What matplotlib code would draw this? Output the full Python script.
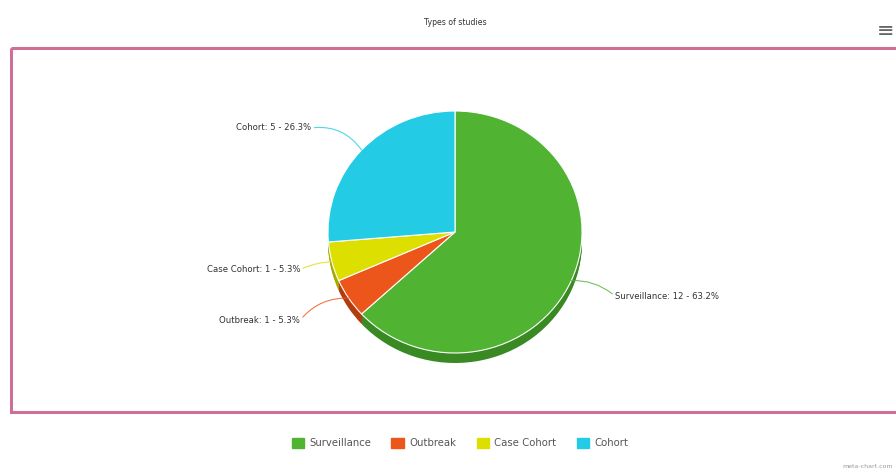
import numpy as np
import matplotlib
matplotlib.use("Agg")
import matplotlib.pyplot as plt
from matplotlib.patches import Rectangle

categories = ["Surveillance", "Outbreak", "Case Cohort", "Cohort"]
counts = [12, 1, 1, 5]
percents = [63.2, 5.3, 5.3, 26.3]
colors = ["#50B432", "#ED561B", "#DDDF00", "#24CBE5"]
side_colors = ["#3a8a24", "#b23c10", "#a8aa00", "#1a9bb0"]
title = "Types of studies"

label_font = ["Liberation Sans Narrow", "DejaVu Sans"]

fig = plt.figure(figsize=(8.96, 4.74), dpi=100)
W, H = 896, 474

# background axes in pixel coords
bg = fig.add_axes([0, 0, 1, 1])
bg.set_xlim(0, W)
bg.set_ylim(H, 0)
bg.axis("off")

bg.add_patch(Rectangle((11, 48), 900, 364, fill=False, edgecolor="#cf6f96", linewidth=2.2))
bg.text(455, 22, title, ha="center", va="center", fontsize=5.6, color="#333333", family=label_font)
bg.text(886, 31, "\u2261", ha="center", va="center", fontsize=15, color="#666666")
bg.text(893, 466, "meta-chart.com", ha="right", va="center", fontsize=4.5, color="#999999")

# pie axes: center (455, 232), rx 127, ry 121 pixels
cx, cy, rx, ry = 455, 232, 127, 121
pw, ph = 2.5 * rx, 2.5 * ry
pax = fig.add_axes([(cx - pw / 2) / W, (H - cy - ph / 2) / H, pw / W, ph / H])

depth = 10 / ry
for k in np.linspace(depth, 0.01, 8):
    pax.pie(counts, colors=side_colors, startangle=90, counterclock=False,
            center=(0, -k), wedgeprops=dict(linewidth=0))
wedges, _ = pax.pie(counts, colors=colors, startangle=90, counterclock=False,
                    wedgeprops=dict(edgecolor="white", linewidth=0.8))
pax.set_aspect("auto")
pax.set_xlim(-1.25, 1.25)
pax.set_ylim(-1.25, 1.25)
pax.axis("off")

# label positions (axes data units)
label_pos = [(1.22, -0.53), (-1.18, -0.73), (-1.18, -0.31), (-1.09, 0.86)]
rads = [0.2, -0.25, -0.1, -0.3]
for w, cat, n, p, c, pos, rad in zip(wedges, categories, counts, percents, colors, label_pos, rads):
    ang = np.deg2rad((w.theta1 + w.theta2) / 2)
    x, y = np.cos(ang), np.sin(ang)
    ha = "left" if pos[0] > 0 else "right"
    tx = pos[0] + (0.04 if ha == "left" else -0.04)
    pax.annotate(f"{cat}: {n} - {p}%", xy=(x, y), xytext=(tx, pos[1]),
                 ha=ha, va="center", fontsize=6.1, color="#333333", family=label_font,
                 arrowprops=dict(arrowstyle="-", color=c, linewidth=0.8, alpha=0.8,
                                 shrinkA=0, shrinkB=0,
                                 connectionstyle=f"arc3,rad={rad}",
                                 relpos=(0, 0.5) if ha == "left" else (1, 0.5)))

handles = [Rectangle((0, 0), 1, 1, color=c) for c in colors]
bg.legend(handles, categories, loc="center", bbox_to_anchor=(460 / W, 1 - 443 / H),
          bbox_transform=fig.transFigure, ncol=4, frameon=False, fontsize=7.3,
          handlelength=1.25, handleheight=1.25, handletextpad=0.5, columnspacing=2.0,
          labelcolor="#555555")

fig.savefig("out.png", dpi=100, facecolor="white")
